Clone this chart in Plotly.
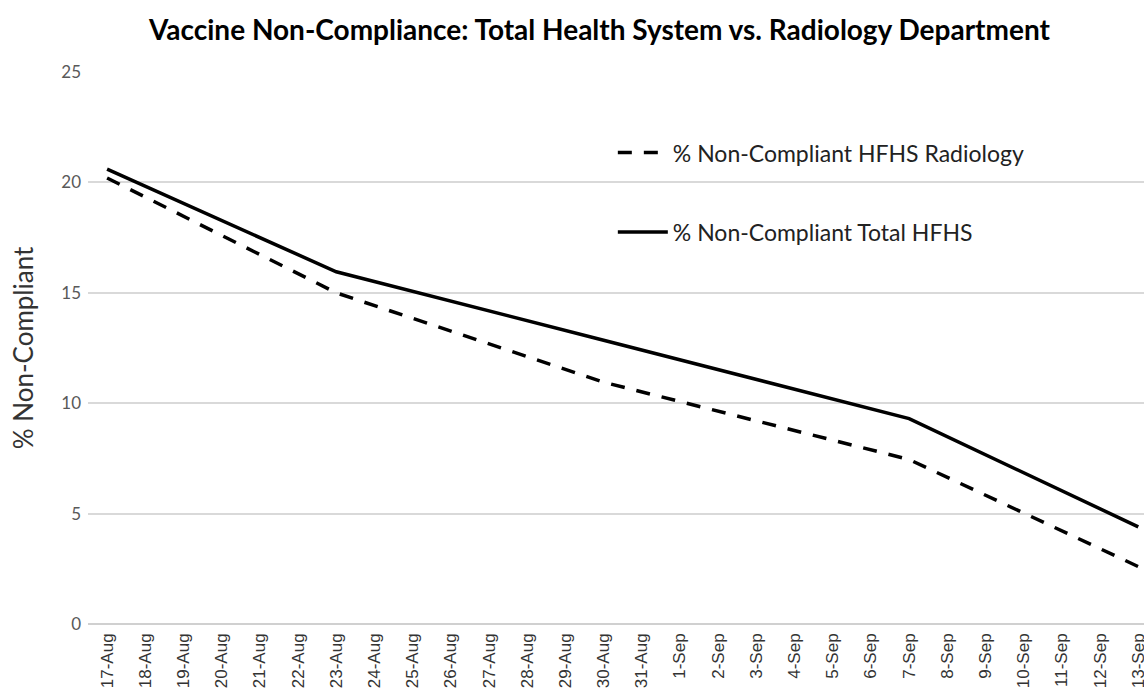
import plotly.graph_objects as go

dates = ["17-Aug", "18-Aug", "19-Aug", "20-Aug", "21-Aug", "22-Aug", "23-Aug", "24-Aug",
         "25-Aug", "26-Aug", "27-Aug", "28-Aug", "29-Aug", "30-Aug", "31-Aug", "1-Sep",
         "2-Sep", "3-Sep", "4-Sep", "5-Sep", "6-Sep", "7-Sep", "8-Sep", "9-Sep",
         "10-Sep", "11-Sep", "12-Sep", "13-Sep"]

# Reported values (weekly readings); other days have no reading
obs_dates = ["17-Aug", "23-Aug", "30-Aug", "7-Sep", "13-Sep"]
radiology_obs = [20.2, 15.0, 10.95, 7.45, 2.6]
total_obs = [20.6, 15.95, 12.85, 9.3, 4.4]

radiology = [radiology_obs[obs_dates.index(d)] if d in obs_dates else None for d in dates]
total = [total_obs[obs_dates.index(d)] if d in obs_dates else None for d in dates]

FONT = "Lato"

fig = go.Figure()
fig.add_trace(go.Scatter(
    x=dates, y=radiology, mode="lines", connectgaps=True,
    name="% Non-Compliant HFHS Radiology", showlegend=True,
    line=dict(color="black", width=3.5, dash="14px,12px"),
    legend="legend",
))
fig.add_trace(go.Scatter(
    x=dates, y=total, mode="lines", connectgaps=True,
    name="% Non-Compliant Total HFHS", showlegend=True,
    line=dict(color="black", width=3.5),
    legend="legend2",
))

leg_common = dict(font=dict(family=FONT, size=23, color="#222222"),
                  bgcolor="rgba(0,0,0,0)", xanchor="left", yanchor="middle",
                  itemwidth=50)

fig.update_layout(
    width=1144, height=694, showlegend=True,
    margin=dict(l=88, r=0, t=71.5, b=69.5),
    paper_bgcolor="white", plot_bgcolor="white",
    title=dict(text="<b>Vaccine Non-Compliance: Total Health System vs. Radiology Department</b>",
               x=0.524, xanchor="center", y=0.957, yanchor="middle",
               font=dict(family=FONT, size=28, color="black")),
    legend=dict(x=0.497, y=0.854, **leg_common),
    legend2=dict(x=0.497, y=0.71, **leg_common),
    xaxis=dict(
        type="category", categoryorder="array", categoryarray=dates,
        range=[-0.5, 27.15], tickangle=-90, showgrid=False,
        showline=False, ticks="", automargin=False, ticklabelstandoff=5,
        tickfont=dict(family="Liberation Sans", size=17, color="#333333"),
    ),
    yaxis=dict(
        range=[0, 25], dtick=5, showgrid=True, gridcolor="#d9d9d9", gridwidth=1.5,
        zeroline=True, zerolinecolor="#d0d0d0", zerolinewidth=2,
        ticks="", ticklabelstandoff=6, automargin=False,
        tickfont=dict(family=FONT, size=17, color="#595959"),
        title=dict(text="% Non-Compliant", font=dict(family=FONT, size=26, color="#333333"),
                   standoff=20),
    ),
)

fig.write_html("out.html", post_script="document.body.style.margin='0';",
               config={"displayModeBar": False})
